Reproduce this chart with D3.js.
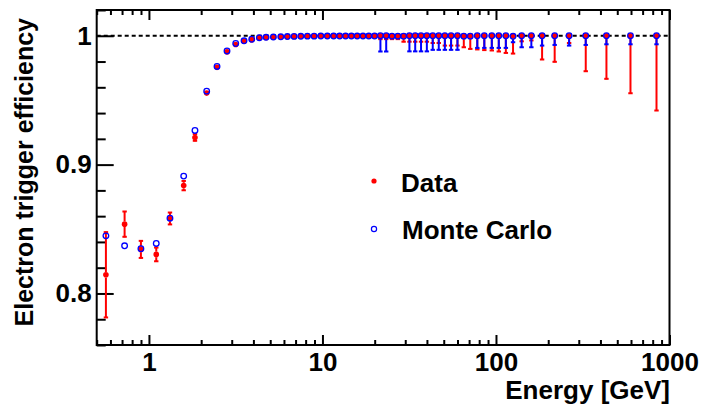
<!DOCTYPE html>
<html><head><meta charset="utf-8">
<script src="https://cdn.jsdelivr.net/npm/d3@7"></script>
<style>
html,body{margin:0;padding:0;background:#fff;}
svg{display:block;}
text{font-family:"Liberation Sans",Arial,Helvetica,sans-serif;font-weight:bold;fill:#000;}
</style></head>
<body><svg id="c" width="702" height="413"></svg>
<script>
// ---- data ----
const energy = [0.565,0.724,0.899,1.102,1.322,1.586,1.842,2.152,2.468,2.818,
  3.163,3.532,3.913,4.329,4.732,5.214,5.752,6.280,6.865,7.504,8.190,8.953,9.786,
  10.67,11.60,12.56,13.59,14.68,15.85,17.12,18.49,19.97,
  21.58,23.30,25.16,27.19,29.36,31.71,34.24,36.99,39.96,43.21,46.80,50.75,55.11,59.99,
  65.24,71.11,78.04,85.66,94.62,103.8,114.0,125.4,140.6,159.9,184.4,217.9,263.9,329.1,433.1,595.8,841.6];

const dataEff = [0.8145,0.8538,0.8342,0.8303,0.8582,0.8837,0.9211,0.9555,0.9755,0.9875,
  0.9932,0.9957,0.9970,0.9983,0.9986,0.9989,0.9991,0.9993,0.9995,0.9996,0.9997,0.9997,0.9998,
  0.9998,0.9998,0.9999,0.9999,0.9999,0.9999,0.9999,0.9999,0.9999,
  1,1,1,1,1,1,1,1,1,1,1,1,1,1,
  1,1,1,1,1,1,1,1,1,1,1,1,1,1,1,1,1];
const dataErrLo = [0.0335,0.0102,0.0070,0.0057,0.0050,0.0040,0.0030,0.0020,0.0015,0.0010,
  0.0006,0.0006,0.0006,0.0006,0.0006,0.0006,0.0006,0.0006,0.0006,0.0006,0.0006,0.0006,0.0006,
  0.0010,0.0010,0.0010,0.0010,0.0010,0.0020,0.0020,0.0020,0.0020,
  0.0030,0.0030,0.0030,0.0030,0.0050,0.0050,0.0050,0.0050,0.0050,0.0060,0.0060,0.0080,0.0080,0.0080,
  0.0093,0.0106,0.0110,0.0115,0.0118,0.0126,0.0137,0.0142,0.0047,0.0040,0.0188,0.0206,0.0060,0.0279,0.0338,0.0450,0.0584];
const dataErrHi = [0.0335,0.0102,0.0070,0.0057,0.0050,0.0040,0.0030,0.0020,0.0015,0.0010,
  0.0003,0.0003,0.0003,0.0003,0.0003,0.0003,0.0003,0.0003,0.0003,0.0003,0.0003,0.0003,0.0002,
  0.0001,0.0001,0.0001,0.0001,0.0001,0.0001,0.0001,0.0001,0.0001,
  0,0,0,0,0,0,0,0,0,0,0,0,0,0,
  0,0,0,0,0,0,0,0,0,0,0,0,0,0,0,0,0];

const mcEff = [0.8447,0.8370,0.8347,0.8388,0.8584,0.8911,0.9265,0.9570,0.9762,0.9882,
  0.9940,0.9961,0.9973,0.9985,0.9988,0.9990,0.9992,0.9994,0.9995,0.9996,0.9997,0.9997,0.9998,
  0.9998,0.9998,0.9998,0.9998,0.9998,0.9998,0.9998,0.9998,0.9998,
  1,1,0.9997,0.9997,0.9997,1,1,1,1,1,1,1,1,1,
  0.9997,0.9997,1,1,1,1,1,0.9996,1,1,1,1,1,1,1,1,1];
const mcErrLo = [0.0020,0.0020,0.0020,0.0020,0.0015,0.0012,0.0010,0.0008,0.0006,0.0005,
  0.0004,0.0004,0.0004,0.0004,0.0004,0.0004,0.0004,0.0004,0.0004,0.0004,0.0004,0.0004,0.0004,
  0.0004,0.0004,0.0004,0.0004,0.0004,0.0004,0.0004,0.0004,0.0004,
  0.0126,0.0126,0.0010,0.0010,0.0010,0.0125,0.0125,0.0125,0.0125,0.0113,0.0113,0.0113,0.0113,0.0113,
  0.0010,0.0010,0.0098,0.0098,0.0098,0.0098,0.0098,0.0050,0.0093,0.0093,0.0080,0.0075,0.0080,0.0075,0.0070,0.0070,0.0070];
const mcErrHi = [0.0020,0.0020,0.0020,0.0020,0.0015,0.0012,0.0010,0.0008,0.0006,0.0005,
  0.0002,0.0002,0.0002,0.0002,0.0002,0.0002,0.0002,0.0002,0.0002,0.0002,0.0002,0.0002,0.0002,
  0.0002,0.0002,0.0002,0.0002,0.0002,0.0002,0.0002,0.0002,0.0002,
  0,0,0.0003,0.0003,0.0003,0,0,0,0,0,0,0,0,0,
  0.0003,0.0003,0,0,0,0,0,0.0004,0,0,0,0,0,0,0,0,0];

const xMajorTicks = [1,10,100,1000];
const xMajorLabels = ["1","10","100","1000"];
const yMajorTicks = [0.8,0.9,1.0];
const yMajorLabels = ["0.8","0.9","1"];
const yMinorTicks = [0.76,0.78,0.82,0.84,0.86,0.88,0.92,0.94,0.96,0.98,1.02];
const seriesNames = ["Data","Monte Carlo"];
const xTitle = "Energy [GeV]";
const yTitle = "Electron trigger efficiency";

// ---- chart ----
const svg = d3.select("#c");
svg.append("rect").attr("width",702).attr("height",413).attr("fill","#fff");
const x = d3.scaleLog().domain([0.5,1000]).range([96.7,669.5]);
const y = d3.scaleLinear().domain([0.76,1.02]).range([345,10]);
const x0 = x.range()[0], x1 = x.range()[1], yb = y.range()[0], yt = y.range()[1];

const xMinor = [];
[0.1,1,10,100].forEach(d => { for (let k=2;k<=9;k++){ const v=d*k; if (v>=0.5 && v<=1000 && xMajorTicks.indexOf(v)<0) xMinor.push(v);} });

// dashed line at 1
svg.append("line").attr("x1",x0).attr("x2",x1).attr("y1",y(1)).attr("y2",y(1))
  .attr("stroke","#000").attr("stroke-width",2).attr("stroke-dasharray","4,3");

function styleAxis(g){ g.select(".domain").remove(); g.selectAll(".tick line").attr("stroke","#000").attr("stroke-width",2); }

// bottom axis
svg.append("g").attr("transform",`translate(0,${yb})`)
  .call(d3.axisBottom(x).tickValues(xMinor).tickSize(-5).tickFormat("")).call(styleAxis);
svg.append("g").attr("transform",`translate(0,${yb})`)
  .call(d3.axisBottom(x).tickValues(xMajorTicks).tickSize(-10).tickPadding(8)
    .tickFormat((d,i)=>xMajorLabels[i])).call(styleAxis)
  .selectAll("text").attr("font-size",26).style("font-family",'"Liberation Sans",Arial,sans-serif').style("font-weight","bold");
// top axis (ticks only)
svg.append("g").attr("transform",`translate(0,${yt})`)
  .call(d3.axisTop(x).tickValues(xMinor).tickSize(-5).tickFormat("")).call(styleAxis);
svg.append("g").attr("transform",`translate(0,${yt})`)
  .call(d3.axisTop(x).tickValues(xMajorTicks).tickSize(-10).tickFormat("")).call(styleAxis);
// left axis
svg.append("g").attr("transform",`translate(${x0},0)`)
  .call(d3.axisLeft(y).tickValues(yMinorTicks).tickSize(-9).tickFormat("")).call(styleAxis);
svg.append("g").attr("transform",`translate(${x0},0)`)
  .call(d3.axisLeft(y).tickValues(yMajorTicks).tickSize(-17).tickPadding(5)
    .tickFormat((d,i)=>yMajorLabels[i])).call(styleAxis)
  .selectAll("text").attr("font-size",26).style("font-family",'"Liberation Sans",Arial,sans-serif').style("font-weight","bold");

// frame
svg.append("rect").attr("x",x0).attr("y",yt).attr("width",x1-x0).attr("height",yb-yt)
  .attr("fill","none").attr("stroke","#000").attr("stroke-width",2);

// titles
svg.append("text").attr("x",670).attr("y",399).attr("text-anchor","end").attr("font-size",26).text(xTitle);
svg.append("text").attr("transform","translate(33.3,18) rotate(-90)").attr("text-anchor","end").attr("font-size",25).text(yTitle);

// series drawing
function drawSeries(vals, lo, hi, color, r, filled){
  const g = svg.append("g");
  const pts = energy.map((e,i)=>({e, v:vals[i], lo:lo[i], hi:hi[i]}));
  pts.forEach(p=>{
    const cx = x(p.e), cy = y(p.v);
    const ylo = y(p.v - p.lo), yhi = y(p.v + p.hi);
    if (ylo - cy > r+0.5){
      g.append("line").attr("x1",cx).attr("x2",cx).attr("y1",cy+r).attr("y2",ylo)
        .attr("stroke",color).attr("stroke-width",2);
      g.append("line").attr("x1",cx-2.2).attr("x2",cx+2.2).attr("y1",ylo-0.5).attr("y2",ylo-0.5)
        .attr("stroke",color).attr("stroke-width",2);
    }
    if (cy - yhi > r+0.5){
      g.append("line").attr("x1",cx).attr("x2",cx).attr("y1",cy-r).attr("y2",yhi)
        .attr("stroke",color).attr("stroke-width",2);
      g.append("line").attr("x1",cx-2.2).attr("x2",cx+2.2).attr("y1",yhi+0.5).attr("y2",yhi+0.5)
        .attr("stroke",color).attr("stroke-width",2);
    }
  });
  g.selectAll("circle").data(pts).join("circle")
    .attr("cx",p=>x(p.e)).attr("cy",p=>y(p.v)).attr("r", filled ? r : r-0.6)
    .attr("fill", filled ? color : "none")
    .attr("stroke", color).attr("stroke-width", filled ? 0 : 1.3);
}
drawSeries(dataEff, dataErrLo, dataErrHi, "#ff0000", 2.8, true);
drawSeries(mcEff, mcErrLo, mcErrHi, "#0000ff", 3.4, false);

// legend
const leg = svg.append("g");
leg.append("circle").attr("cx",374).attr("cy",181).attr("r",2.6).attr("fill","#ff0000");
leg.append("circle").attr("cx",374).attr("cy",229).attr("r",2.6).attr("fill","none").attr("stroke","#0000ff").attr("stroke-width",1.2);
leg.append("text").attr("x",401).attr("y",191.5).attr("font-size",26).text(seriesNames[0]);
leg.append("text").attr("x",402).attr("y",239).attr("font-size",26).text(seriesNames[1]);
</script></body></html>
